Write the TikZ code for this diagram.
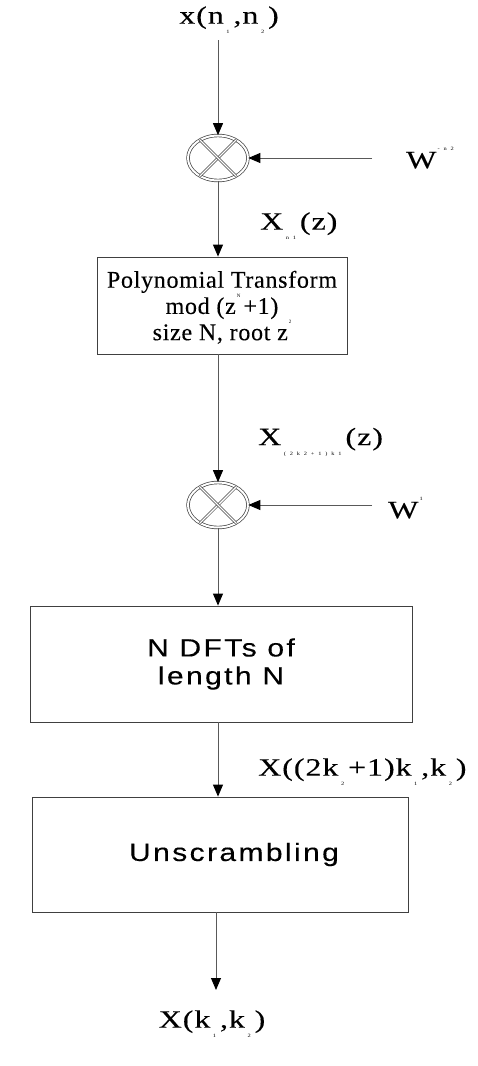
\documentclass[tikz,border=0pt]{standalone}
\usepackage{graphicx}
\usepackage{fontspec}
\setmainfont{Liberation Serif}[LetterSpace=3,FakeBold=0.2]
\newfontfamily\arialf{Liberation Sans}[LetterSpace=8,FakeBold=0.2]
\newfontfamily\tinyf{Liberation Serif}[LetterSpace=60]
\usetikzlibrary{arrows.meta,shapes.geometric}
\newcommand{\tsub}[1]{\hspace{2pt}\raisebox{-0.4em}{\tinyf\fontsize{5}{5}\selectfont #1}\hspace{3pt}}
\newcommand{\tsup}[1]{\hspace{1pt}\raisebox{0.7em}{\tinyf\fontsize{5}{5}\selectfont #1}\hspace{3pt}}
\newcommand{\wide}[1]{\scalebox{1.28}[1]{#1}}
\newcommand{\swide}[1]{\scalebox{1.2}[1]{#1}}
\begin{document}
\begin{tikzpicture}[x=1pt,y=-1pt,
  lbl/.style={font=\fontsize{25}{28}\selectfont, inner sep=0pt},
  mult/.style={ellipse, draw=black!75, double, double distance=2pt, line width=0.7pt,
     minimum width=60pt, minimum height=45pt, inner sep=0pt},
  blk/.style={draw=black!75, line width=0.8pt, align=center, inner sep=0pt},
  arr/.style={draw=black!65, line width=0.9pt, -{Triangle[width=10pt,length=12pt,black]}},
  crs/.style={draw=black!75, double, double distance=1.4pt, line width=0.6pt}
]
\useasboundingbox (0,0) rectangle (478,1066);
\fill[white] (0,0) rectangle (478,1066);

% multipliers
\node[mult] (m1) at (218,158) {};
\draw[crs] (m1.45) -- (m1.225);
\draw[crs] (m1.135) -- (m1.315);
\node[mult] (m2) at (218,505) {};
\draw[crs] (m2.45) -- (m2.225);
\draw[crs] (m2.135) -- (m2.315);

% blocks
\node[blk, minimum width=250pt, minimum height=97pt,
      font=\fontsize{24}{24}\selectfont, text depth=-2pt] (b1) at (222,305.5)
  {Polynomial Transform\\ mod (z\tsup{N}+1)\\ size N, root z\tsup{2}};
\node[blk, minimum width=382pt, minimum height=116pt,
      font=\arialf\fontsize{25}{28}\selectfont] (b2) at (221,664)
  {\swide{N DFTs of}\\ \swide{length N}};
\node[blk, minimum width=376pt, minimum height=115pt,
      font=\arialf\fontsize{25}{28}\selectfont] (b3) at (220,854.5)
  {\hspace*{28pt}\swide{Unscrambling}};

% labels
\node[lbl] (xin) at (229,20) {\wide{x(n\tsub{1},n\tsub{2})}};
\node[lbl, anchor=west] (w1) at (406,158) {\wide{W\tsup{-n2}}};
\node[lbl, anchor=west] (w2) at (388,508) {\wide{W\tsup{1}}};
\node[lbl, anchor=west] (l1) at (260,226) {\wide{X\tsub{n1}(z)}};
\node[lbl, anchor=west] (l2) at (258,442) {\wide{X\tsub{(2k2+1)k1}(z)}};
\node[lbl, anchor=west] (l3) at (258,772) {\wide{X((2k\tsub{2}+1)k\tsub{1},k\tsub{2})}};
\node[lbl] (xout) at (212,1024) {\wide{X(k\tsub{1},k\tsub{2})}};

% coordinates
\coordinate (c0) at (218,40);
\coordinate (w1s) at (372,158);
\coordinate (w2s) at (372,505);
\coordinate (cend) at (216,990);

% connectors
\draw[arr] (c0) -- (m1.north);
\draw[arr] (w1s) -- (m1.east);
\draw[arr] (m1.south) -- (m1.south |- b1.north);
\draw[arr] (m2.north |- b1.south) -- (m2.north);
\draw[arr] (w2s) -- (m2.east);
\draw[arr] (m2.south) -- (m2.south |- b2.north);
\draw[arr] (m2.south |- b2.south) -- (m2.south |- b3.north);
\draw[arr] (cend |- b3.south) -- (cend);
\end{tikzpicture}
\end{document}
